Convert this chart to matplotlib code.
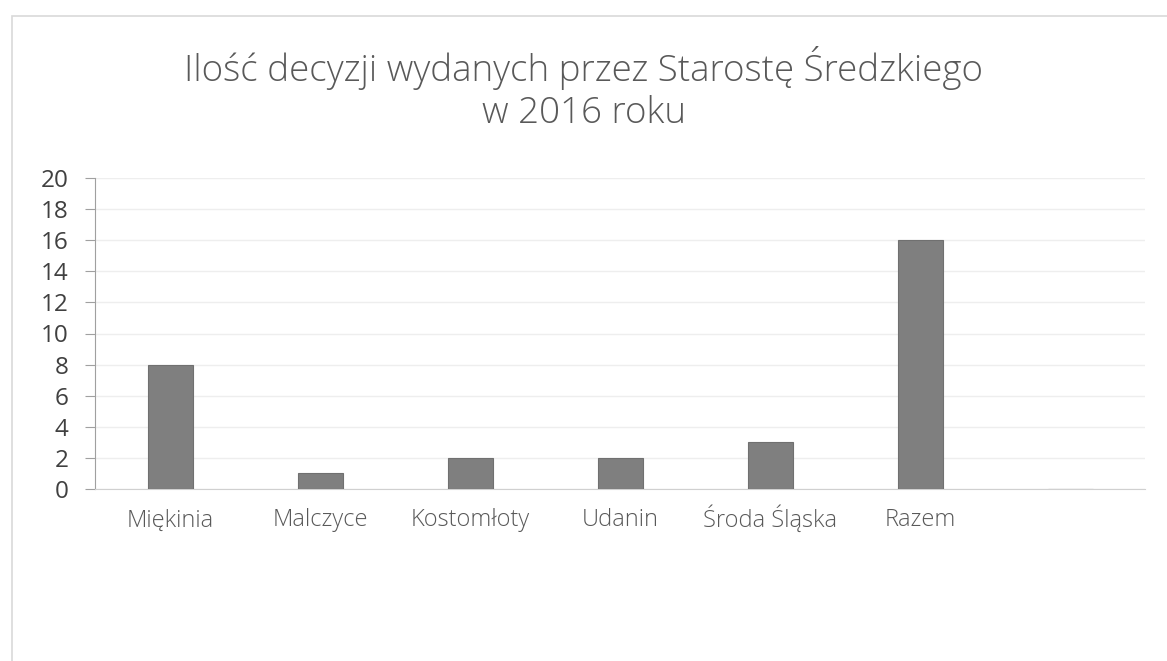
import matplotlib
matplotlib.use("Agg")
import matplotlib.pyplot as plt
from matplotlib.patches import Rectangle

categories = ["Miękinia", "Malczyce", "Kostomłoty", "Udanin", "Środa Śląska", "Razem", ""]
values = [8, 1, 2, 2, 3, 16, 0]
yticks = [0, 2, 4, 6, 8, 10, 12, 14, 16, 18, 20]
title = "Ilość decyzji wydanych przez Starostę Średzkiego\nw 2016 roku"

plt.rcParams['font.family'] = ['Open Sans', 'DejaVu Sans']

fig = plt.figure(figsize=(11.67, 6.61), dpi=100)
fig.patch.set_facecolor('white')
fig.patches.append(Rectangle((12/1167, -0.05), 1.2, 1 - 16/661 + 0.05, transform=fig.transFigure,
                             fill=False, edgecolor='#d9d9d9', linewidth=1.2))

ax = fig.add_axes([95/1167, 1 - 489/661, (1145 - 95)/1167, (489 - 178)/661])
x = list(range(len(categories)))
ax.bar(x, values, width=0.3, color='#7f7f7f', edgecolor='#707070', linewidth=0.8, zorder=3)
ax.set_xlim(-0.5, len(categories) - 0.5)
ax.set_ylim(0, 20)
ax.set_yticks(yticks)
ax.set_yticklabels([str(v) for v in yticks], fontsize=17.5, color='#404040')
ax.set_xticks(x)
ax.set_xticklabels(categories, fontsize=17, color='#595959', va='baseline', fontweight='light')
ax.tick_params(axis='x', length=0, pad=27)
ax.tick_params(axis='y', length=7, width=0.8, color='#a0a0a0', pad=12)
ax.grid(axis='y', color='#eeeeee', linewidth=1, zorder=0)
for s in ['top', 'right']:
    ax.spines[s].set_visible(False)
ax.spines['left'].set_color('#a0a0a0')
ax.spines['bottom'].set_color('#d0d0d0')
ax.spines['left'].set_linewidth(0.8)

fig.text(0.5, 1 - 89/661, title, ha='center', va='center', fontsize=26.5, color='#595959',
         linespacing=1.15, fontweight='light')

fig.savefig("out.png", dpi=100, facecolor='white')
